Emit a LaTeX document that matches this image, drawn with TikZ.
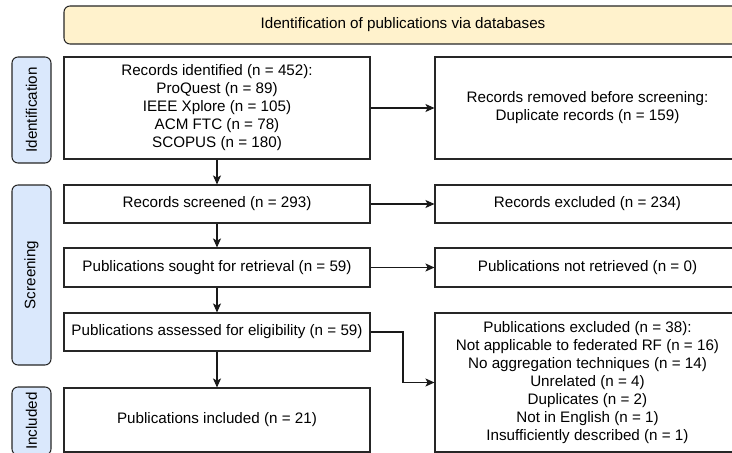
\documentclass[tikz,border=0pt]{standalone}
\usepackage{fontspec}
\setmainfont{Liberation Sans}
\usetikzlibrary{arrows.meta}
\definecolor{hdrfill}{HTML}{FFF2CC}
\definecolor{sidefill}{HTML}{DAE8FC}
\def\u{0.75pt}
\tikzset{
  txt/.style={font=\fontsize{11.4pt}{13.5pt}\selectfont, align=center},
  box/.style={txt, draw=black!85, line width=0.8pt, fill=white, inner sep=0pt},
  hdr/.style={box, fill=hdrfill, rounded corners=4.5pt},
  side/.style={box, fill=sidefill, rounded corners=4.5pt, rotate=90},
  arr/.style={draw=black!90, line width=0.8pt, -{Stealth[length=6.75pt,width=6pt,inset=1.6pt]}},
}
\begin{document}
\begin{tikzpicture}[x=0.75pt, y=-0.75pt]
\useasboundingbox (0,0) rectangle (732,453);
\clip (0,0) rectangle (732,453);
% header
\node[hdr, minimum width=678*\u, minimum height=38*\u] (hdr) at (403,25) {Identification of publications via databases};
% side labels
\node[side, minimum width=106*\u, minimum height=39*\u] (sid) at (31.5,110) {Identification};
\node[side, minimum width=180*\u, minimum height=39*\u] (sscr) at (31.5,275) {Screening};
\node[side, minimum width=68*\u, minimum height=39*\u] (sinc) at (31.5,421) {Included};
% left column
\node[box, minimum width=306*\u, minimum height=102*\u] (id) at (217,108) {Records identified (n = 452):\\ProQuest (n = 89)\\IEEE Xplore (n = 105)\\ACM FTC (n = 78)\\SCOPUS (n = 180)};
\node[box, minimum width=306*\u, minimum height=38*\u] (scr) at (217,204) {Records screened (n = 293)};
\node[box, minimum width=306*\u, minimum height=39*\u] (sought) at (217,267.5) {Publications sought for retrieval (n = 59)};
\node[box, minimum width=306*\u, minimum height=38*\u] (assess) at (217,332) {Publications assessed for eligibility (n = 59)};
\node[box, minimum width=306*\u, minimum height=64*\u] (incl) at (217,420) {Publications included (n = 21)};
% right column
\node[box, minimum width=305*\u, minimum height=102*\u] (removed) at (587.5,108) {Records removed before screening:\\Duplicate records (n = 159)};
\node[box, minimum width=305*\u, minimum height=38*\u] (excl) at (587.5,204) {Records excluded (n = 234)};
\node[box, minimum width=305*\u, minimum height=39*\u] (notret) at (587.5,267.5) {Publications not retrieved (n = 0)};
\node[box, minimum width=305*\u, minimum height=139*\u] (pubexcl) at (587.5,382.5) {Publications excluded (n = 38):\\Not applicable to federated RF (n = 16)\\No aggregation techniques (n = 14)\\Unrelated (n = 4)\\Duplicates (n = 2)\\Not in English (n = 1)\\Insufficiently described (n = 1)};
% connectors
\draw[arr] (id) -- (scr);
\draw[arr] (scr) -- (sought);
\draw[arr] (sought) -- (assess);
\draw[arr] (assess) -- (incl);
\draw[arr] (id) -- (removed);
\draw[arr] (scr) -- (excl);
\draw[arr] (sought) -- (notret);
\coordinate (elbow) at (403,332);
\draw[arr] (assess.east) -- (elbow) |- (pubexcl.west);
\end{tikzpicture}
\end{document}
